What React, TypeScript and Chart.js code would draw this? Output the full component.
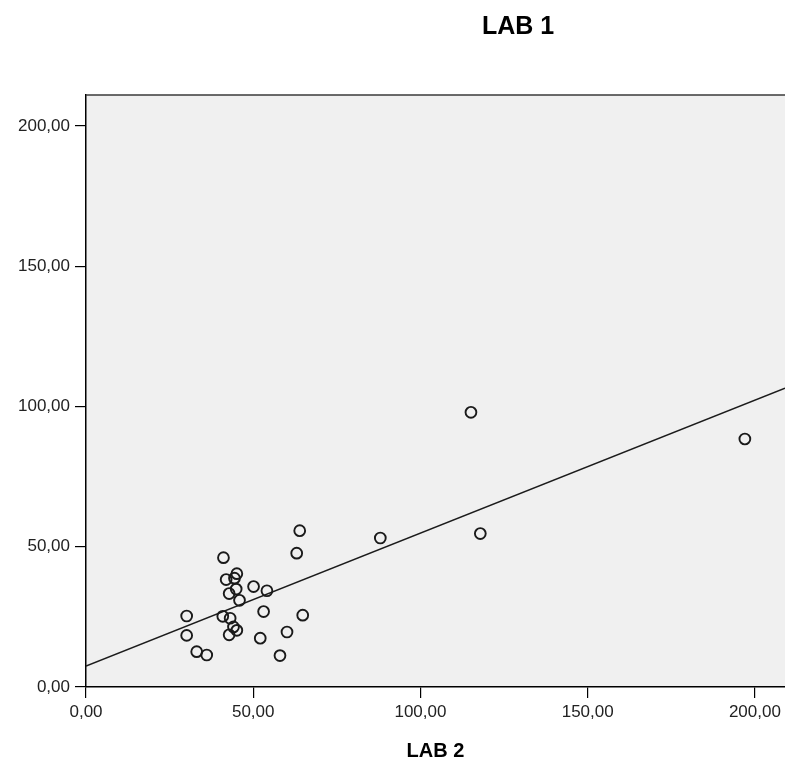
import React, { useEffect, useRef } from "react";
import { Chart, registerables } from "chart.js";

Chart.register(...registerables);

// LAB 2 readings (x) and LAB 1 readings (y), one entry per sample
const lab2Values: number[] = [
  63.9, 63.0, 41.1, 45.1, 41.9, 44.4, 44.9, 42.8, 50.1, 54.1,
  45.9, 53.1, 30.1, 64.8, 40.9, 43.1, 44.1, 45.1, 42.8, 30.1,
  60.1, 52.1, 33.1, 36.1, 58.0, 115.1, 197.0, 88.0, 117.9,
];
const lab1Values: number[] = [
  55.7, 47.7, 46.1, 40.4, 38.3, 38.8, 34.9, 33.3, 35.8, 34.3,
  30.9, 26.9, 25.3, 25.6, 25.2, 24.5, 21.4, 20.2, 18.6, 18.4,
  19.6, 17.4, 12.6, 11.4, 11.2, 97.9, 88.4, 53.1, 54.7,
];

// Linear fit line: LAB 1 = intercept + slope * LAB 2
const fitIntercept = 7.46;
const fitSlope = 0.474;

// Axis ranges and tick marks
const xRange: number[] = [0, 209];
const yRange: number[] = [0, 211];
const xTicks: number[] = [0, 50, 100, 150, 200];
const yTicks: number[] = [0, 50, 100, 150, 200];

const chartTitle = "LAB 1";
const xTitle = "LAB 2";

const FONT = "'Liberation Sans', Arial, Helvetica, sans-serif";

const formatTick = (v: number) => v.toFixed(2).replace(".", ",");

const plotFrame = {
  id: "plotFrame",
  beforeDraw(chart: any) {
    const { ctx, chartArea } = chart;
    ctx.save();
    ctx.fillStyle = "#f0f0f0";
    ctx.fillRect(chartArea.left, chartArea.top, chartArea.right - chartArea.left, chartArea.bottom - chartArea.top);
    ctx.restore();
  },
  afterDraw(chart: any) {
    const { ctx, chartArea } = chart;
    ctx.save();
    ctx.strokeStyle = "#3a3a3a";
    ctx.lineWidth = 1.5;
    ctx.beginPath();
    ctx.moveTo(chartArea.left, chartArea.top);
    ctx.lineTo(chartArea.right, chartArea.top);
    ctx.stroke();
    // chart heading
    ctx.fillStyle = "#000";
    ctx.font = `bold 25px ${FONT}`;
    ctx.textAlign = "center";
    ctx.textBaseline = "middle";
    ctx.fillText(chartTitle, 518, 27);
    ctx.restore();
  },
};

export default function App() {
  const canvasRef = useRef<HTMLCanvasElement | null>(null);

  useEffect(() => {
    if (!canvasRef.current) return;
    const points = lab2Values.map((x, i) => ({ x, y: lab1Values[i] }));
    const fitLine = xRange.map((x) => ({ x, y: fitIntercept + fitSlope * x }));

    const chart = new Chart(canvasRef.current, {
      type: "scatter",
      data: {
        datasets: [
          {
            type: "line",
            data: fitLine,
            borderColor: "#1c1c1c",
            borderWidth: 1.6,
            pointRadius: 0,
            fill: false,
            order: 2,
          } as any,
          {
            data: points,
            pointStyle: "circle",
            pointRadius: 5.4,
            pointBorderWidth: 1.9,
            borderColor: "#1a1a1a",
            backgroundColor: "rgba(0,0,0,0)",
            order: 1,
          },
        ],
      },
      options: {
        responsive: false,
        animation: false,
        layout: { autoPadding: false, padding: { top: 95, left: 0, right: 0, bottom: 0 } },
        plugins: {
          legend: { display: false },
          tooltip: { enabled: false },
          title: { display: false },
        },
        scales: {
          x: {
            type: "linear",
            min: xRange[0],
            max: xRange[1],
            afterBuildTicks: (scale: any) => {
              scale.ticks = xTicks.map((value) => ({ value }));
            },
            afterFit: (scale: any) => {
              scale.height = 78;
              scale.paddingLeft = 0;
              scale.paddingRight = 0;
            },
            grid: { drawOnChartArea: false, drawTicks: true, tickLength: 11, color: "#000", lineWidth: 1.2 },
            border: { display: true, color: "#000", width: 1.5 },
            ticks: {
              padding: 4,
              color: "#222",
              font: { family: FONT, size: 17 },
              callback: (v: any) => formatTick(Number(v)),
              maxRotation: 0,
            },
            title: {
              display: true,
              text: xTitle,
              color: "#000",
              font: { family: FONT, size: 20, weight: "bold" },
              padding: { top: 0, bottom: 2 },
            },
          },
          y: {
            type: "linear",
            min: yRange[0],
            max: yRange[1],
            afterBuildTicks: (scale: any) => {
              scale.ticks = yTicks.map((value) => ({ value }));
            },
            afterFit: (scale: any) => {
              scale.width = 86;
              scale.paddingTop = 0;
              scale.paddingBottom = 0;
            },
            grid: { drawOnChartArea: false, drawTicks: true, tickLength: 11, color: "#000", lineWidth: 1.2 },
            border: { display: true, color: "#000", width: 1.5 },
            ticks: {
              padding: 5,
              color: "#222",
              font: { family: FONT, size: 17 },
              callback: (v: any) => formatTick(Number(v)),
            },
          },
        },
      },
      plugins: [plotFrame],
    });
    return () => chart.destroy();
  }, []);

  return (
    <div style={{ position: "absolute", left: 0, top: 0, width: 785, height: 765, background: "#fff" }}>
      <canvas ref={canvasRef} width={785} height={765} />
    </div>
  );
}
